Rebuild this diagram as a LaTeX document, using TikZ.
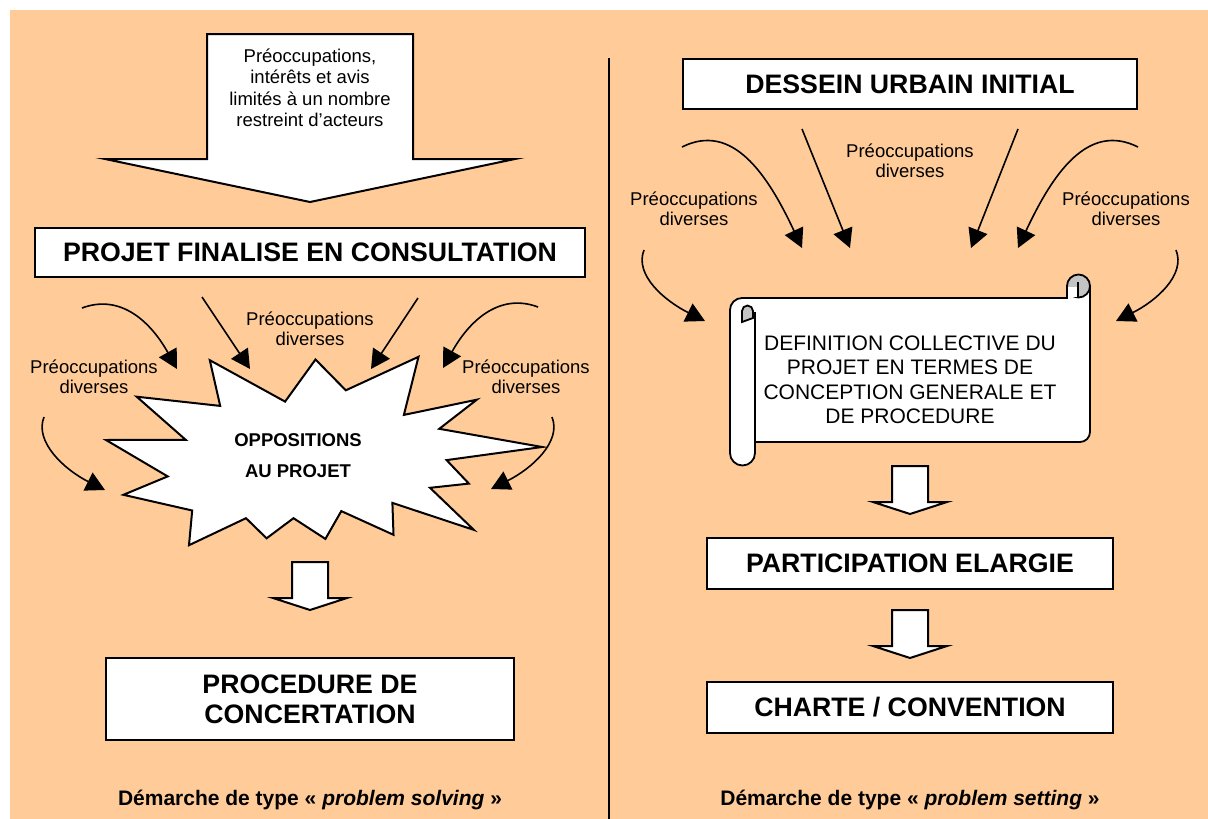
\documentclass[tikz,border=0pt]{standalone}
\usepackage{fontspec}
\setmainfont{Liberation Sans}
\usetikzlibrary{arrows.meta}
\definecolor{peach}{HTML}{FFCC99}
\definecolor{rollgray}{HTML}{C4C4C4}
\begin{document}
\begin{tikzpicture}[x=1pt,y=-1pt,
  titlebox/.style={draw=black, line width=2.5pt, fill=white, inner sep=0pt, align=center,
                   font=\fontsize{26.7}{30}\selectfont\bfseries},
  preoc/.style={align=center, inner sep=0pt, font=\fontsize{18.5}{20.5}\selectfont},
  conn/.style={line width=1.6pt, -{Triangle[length=19pt,width=20pt]}},
  outl/.style={draw=black, line width=2pt, fill=white, line join=miter},
  scrollline/.style={draw=black, line width=1.8pt},
  capt/.style={inner sep=0pt, font=\fontsize{21}{24}\selectfont\bfseries},
  pics/downarrow/.style={code={
    \draw[outl] (-18,0) -- (18,0) -- (18,36) -- (37,36) -- (0,48) -- (-37,36) -- (-18,36) -- cycle;}}
]
\useasboundingbox (0,0) rectangle (1208,819);
\fill[white] (0,0) rectangle (1208,819);
\fill[peach] (10,10) rectangle (1208,819);

% divider
\coordinate (divtop) at (609,58);
\coordinate (divbot) at (609,819);
\draw[line width=1.5pt] (divtop) -- (divbot);

% ===== LEFT =====
\draw[outl] (207,34) -- (413,34) -- (413,159) -- (515,159) -- (310,202) -- (105,159) -- (207,159) -- cycle;
\node[preoc, font=\fontsize{18.5}{21.5}\selectfont] (preo0) at (310,88)
  {Préoccupations,\\intérêts et avis\\limités à un nombre\\restreint d’acteurs};

\node[titlebox, minimum width=550pt, minimum height=49pt] (pfc) at (310,252.5)
  {PROJET FINALISE EN CONSULTATION};

% starburst
\draw[outl] (315.5,359.5) -- (345.8,390.3) -- (418.5,356.8) -- (403.9,414.9) -- (476.8,399.7)
  -- (439.3,428.8) -- (542.1,447.0) -- (446.6,460.1) -- (468.9,483.6) -- (430.0,487.8)
  -- (473.9,529.9) -- (392.4,502.9) -- (393.5,534.8) -- (341.3,511.1) -- (325.4,538.9)
  -- (293.5,518.2) -- (266.6,538.3) -- (246.0,518.2) -- (189.0,545.2) -- (192.2,510.5)
  -- (123.4,494.8) -- (167.7,476.4) -- (106.0,440.0) -- (185.7,439.8) -- (136.7,396.7)
  -- (220.2,405.9) -- (209.8,360.2) -- (285.1,401.6) -- cycle;
\node[align=center, inner sep=0pt, font=\fontsize{18.5}{31}\selectfont\bfseries] (opp) at (298,456)
  {OPPOSITIONS\\AU PROJET};

% labels left
\node[preoc] (pl1) at (94,377) {Préoccupations\\diverses};
\node[preoc] (pl2) at (310,329) {Préoccupations\\diverses};
\node[preoc] (pl3) at (526,377) {Préoccupations\\diverses};

% connectors left
\coordinate (a1s) at (82,308);  \coordinate (a1t) at (177,369);
\coordinate (a2s) at (202,297); \coordinate (a2t) at (250,369);
\coordinate (a3s) at (418,298); \coordinate (a3t) at (371,369);
\coordinate (a4s) at (538,307); \coordinate (a4t) at (443,368);
\coordinate (a5s) at (44,417);  \coordinate (a5t) at (105,490);
\coordinate (a6s) at (552,417); \coordinate (a6t) at (491,489);
\draw[conn] (a1s) .. controls +(40,-15) and +(-25,-45) .. (a1t);
\draw[conn] (a2s) -- (a2t);
\draw[conn] (a3s) -- (a3t);
\draw[conn] (a4s) .. controls +(-40,-15) and +(25,-45) .. (a4t);
\draw[conn] (a5s) .. controls +(-10,25) and +(-40,-20) .. (a5t);
\draw[conn] (a6s) .. controls +(10,25) and +(40,-20) .. (a6t);

\pic at (310,562) {downarrow};

\node[titlebox, minimum width=408pt, minimum height=82pt] (proc) at (310,699)
  {PROCEDURE DE\\CONCERTATION};

\node[capt] (capL) at (310,800) {Démarche de type « \textit{problem solving} »};

% ===== RIGHT =====
\node[titlebox, minimum width=454pt, minimum height=50pt] (dess) at (910,84)
  {DESSEIN URBAIN INITIAL};

\node[preoc] (pr1) at (694,209) {Préoccupations\\diverses};
\node[preoc] (pr2) at (910,161) {Préoccupations\\diverses};
\node[preoc] (pr3) at (1126,209) {Préoccupations\\diverses};

\coordinate (b1s) at (682,147);  \coordinate (b1t) at (802,248);
\coordinate (b2s) at (802,129);  \coordinate (b2t) at (850,248);
\coordinate (b3s) at (1018,129); \coordinate (b3t) at (971,248);
\coordinate (b4s) at (1138,147); \coordinate (b4t) at (1018,248);
\coordinate (b5s) at (644,250);  \coordinate (b5t) at (705,321);
\coordinate (b6s) at (1176,250); \coordinate (b6t) at (1116,321);
\draw[conn] (b1s) .. controls +(50,-25) and +(-35,-75) .. (b1t);
\draw[conn] (b2s) -- (b2t);
\draw[conn] (b3s) -- (b3t);
\draw[conn] (b4s) .. controls +(-50,-25) and +(35,-75) .. (b4t);
\draw[conn] (b5s) .. controls +(-10,25) and +(-40,-20) .. (b5t);
\draw[conn] (b6s) .. controls +(10,25) and +(40,-20) .. (b6t);

% scroll
\draw[scrollline, fill=white] (742,298) -- (1067,298) -- (1067,286) -- (1090,286) -- (1090,432)
  arc[start angle=0, end angle=90, radius=10] -- (755,442) -- (755,453)
  arc[start angle=0, end angle=180, radius=12.5] -- (730,310)
  arc[start angle=180, end angle=270, radius=12] -- cycle;
\draw[scrollline, fill=rollgray] (1078.5,286) circle (11.5);
\fill[white] (1068,287) rectangle (1078,297);
\draw[scrollline] (1067,286) -- (1067,298);
\draw[scrollline] (1078,282) -- (1078,297);
\draw[scrollline] (755,312) -- (755,453);
\draw[scrollline, fill=rollgray] (742,322) -- (742,311) arc[start angle=180, end angle=360, radius=5.5]
  -- (753,318) -- cycle;
\node[align=center, inner sep=0pt, font=\fontsize{21}{24.5}\selectfont] (def) at (910,380)
  {DEFINITION COLLECTIVE DU\\PROJET EN TERMES DE\\CONCEPTION GENERALE ET\\DE PROCEDURE};

\pic at (910,466) {downarrow};
\node[titlebox, minimum width=406pt, minimum height=51pt] (part) at (910,563.5)
  {PARTICIPATION ELARGIE};
\pic at (910,610) {downarrow};
\node[titlebox, minimum width=406pt, minimum height=51pt] (chart) at (910,707.5)
  {CHARTE / CONVENTION};

\node[capt] (capR) at (910,800) {Démarche de type « \textit{problem setting} »};
\end{tikzpicture}
\end{document}
